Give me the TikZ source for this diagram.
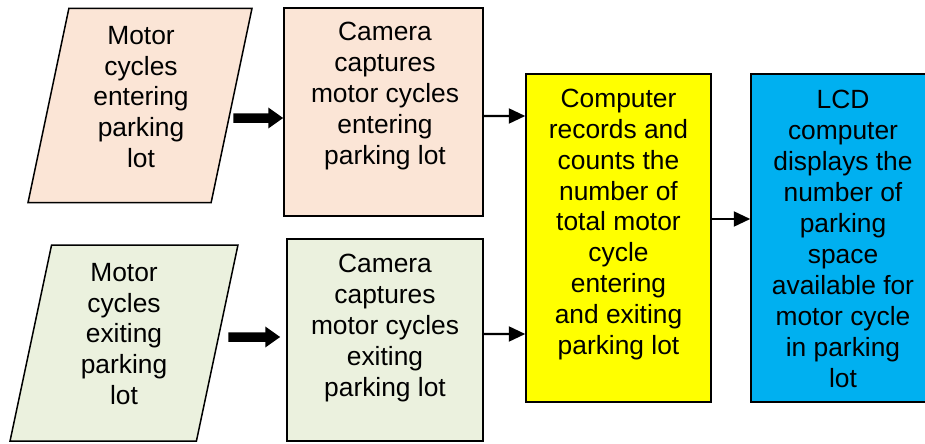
\documentclass[tikz,border=0pt]{standalone}
\usepackage{fontspec}
\setmainfont{Liberation Sans}
\usetikzlibrary{shapes.geometric,arrows.meta}
\definecolor{peach}{HTML}{FBE5D6}
\definecolor{palegreen}{HTML}{EBF1DE}
\definecolor{cpuyellow}{HTML}{FFFF00}
\definecolor{lcdblue}{HTML}{00B0F0}

\begin{document}
\begin{tikzpicture}[box/.style={draw=black, line width=0.03cm, inner sep=0pt},
		inbox/.style={box, inner sep=2pt, trapezium, trapezium left angle=74, trapezium right angle=106, trapezium stretches=true},
		txt/.style={align=center, inner sep=0pt, font=\fontsize{15}{17.6}\selectfont},
		bigarrow/.style={line width=0.19cm, -{Triangle[length=0.3cm, width=0.4cm]}},
		arr/.style={line width=0.045cm, -{Triangle[length=0.33cm, width=0.3cm]}}]
			\useasboundingbox (0,0) rectangle (18.5,-8.86);
			
			\node[inbox, fill=peach, minimum width=4.48cm, minimum height=3.88cm] (in1) at (2.8,-2.11){};
			\node[inbox, fill=palegreen, minimum width=4.56cm, minimum height=3.92cm] (in2) at (2.48,-6.86){};
			\node[box, fill=peach, minimum width=3.98cm, minimum height=4.16cm] (cam1) at (7.67,-2.24){};
			\node[box, fill=palegreen, minimum width=3.92cm, minimum height=4.04cm] (cam2) at (7.70,-6.80){};
			\node[box, fill=cpuyellow, minimum width=3.70cm, minimum height=6.56cm] (cpu) at (12.37,-4.76){};
			\node[box, fill=lcdblue, minimum width=3.68cm, minimum height=6.56cm] (lcd) at (16.86,-4.76){};
			
			\node[txt] (in1text) at ([shift={(0.02,0.17)}]in1.center){Motor\\cycles\\entering\\parking\\lot};
			\node[txt] (in2text) at ([shift={(0,0.18)}]in2.center){Motor\\cycles\\exiting\\parking\\lot};
			\node[txt] (cam1text) at ([shift={(0.03,0.32)}]cam1.center){Camera\\captures\\motor cycles\\entering\\parking lot};
			\node[txt] (cam2text) at ([shift={(0,0.24)}]cam2.center){Camera\\captures\\motor cycles\\exiting\\parking lot};
			\node[txt] (cputext) at ([shift={(0,0.27)}]cpu.center){Computer\\records and\\counts the\\number of\\total motor\\cycle\\entering\\and exiting\\parking lot};
			\node[txt] (lcdtext) at ([yshift=-0.02cm]lcd.center){LCD\\computer\\displays the\\number of\\parking\\space\\available for\\motor cycle\\in parking\\lot};
			
			\draw[bigarrow] ([shift={(0.02,-0.25)}]in1.east) -- ([yshift=-0.12cm]cam1.west);
			\draw[bigarrow] ([shift={(0.21,0.12)}]in2.east) -- ([shift={(-0.12,0.06)}]cam2.west);
			\draw[arr] ([yshift=-0.08cm]cam1.east) -- ([yshift=2.44cm]cpu.west);
			\draw[arr] ([yshift=0.12cm]cam2.east) -- ([yshift=-1.92cm]cpu.west);
			\draw[arr] ([yshift=0.38cm]cpu.east) -- ([yshift=0.38cm]lcd.west);
			\end{tikzpicture}
\end{document}
